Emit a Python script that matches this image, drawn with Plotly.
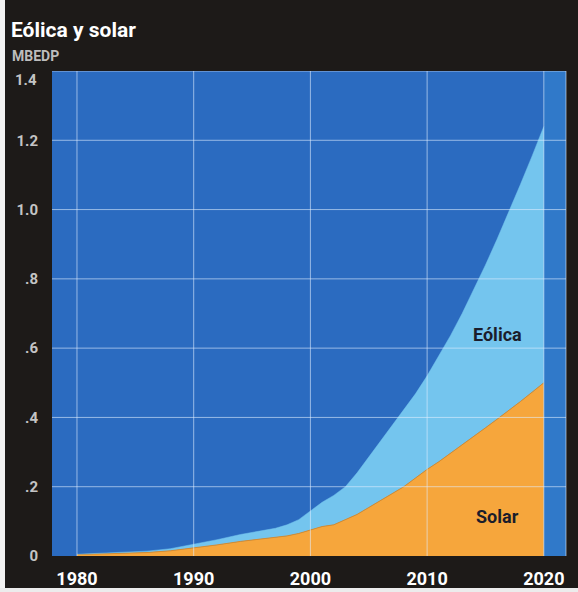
import plotly.graph_objects as go

# Annual production, millions of barrels equivalent per day (MBEDP)
years = [1980, 1982, 1984, 1986, 1988, 1990, 1992, 1994, 1996, 1997, 1998, 1999,
         2000, 2001, 2002, 2003, 2004, 2005, 2006, 2007, 2008, 2009, 2010,
         2011, 2012, 2013, 2014, 2015, 2016, 2017, 2018, 2019, 2020]
total = [0.005, 0.008, 0.011, 0.014, 0.021, 0.033, 0.047, 0.062, 0.073, 0.080, 0.090, 0.105,
         0.130, 0.155, 0.175, 0.200, 0.240, 0.285, 0.330, 0.375, 0.420, 0.468, 0.520,
         0.576, 0.636, 0.700, 0.768, 0.840, 0.915, 0.993, 1.073, 1.155, 1.240]
solar = [0.004, 0.006, 0.008, 0.010, 0.015, 0.023, 0.032, 0.042, 0.050, 0.054, 0.058, 0.065,
         0.075, 0.085, 0.090, 0.105, 0.120, 0.140, 0.160, 0.180, 0.200, 0.225, 0.250,
         0.272, 0.296, 0.320, 0.345, 0.370, 0.395, 0.420, 0.446, 0.473, 0.500]
eolica = [round(t - s, 4) for t, s in zip(total, solar)]

x_ticks = [1980, 1990, 2000, 2010, 2020]
y_ticks = [0, 0.2, 0.4, 0.6, 0.8, 1.0, 1.2, 1.4]
y_labels = ["0", ".2", ".4", ".6", ".8", "1.0", "1.2", "1.4"]

BG = "#1d1a18"
PLOT_BG = "#2b6bc0"
ORANGE = "#f6a63c"
LIGHT_BLUE = "#74c5ee"
FONT = "Roboto, Liberation Sans, sans-serif"
YTICK_FONT = dict(family=FONT, size=15, color="#c4c4c4", weight="bold")

W, H = 578, 592
L, R, T, B = 52, 12, 71, 36
plot_w, plot_h = W - L - R, H - T - B


def px_to_paper_x(px):
    return (px - L) / plot_w


def px_to_paper_y(py):
    return (H - B - py) / plot_h


fig = go.Figure()

fig.add_trace(go.Scatter(
    x=years, y=solar, name="Solar", stackgroup="one", mode="lines",
    line=dict(color="#d88b2c", width=1), fillcolor=ORANGE,
))
fig.add_trace(go.Scatter(
    x=years, y=eolica, name="Eólica", stackgroup="one", mode="lines",
    line=dict(color=LIGHT_BLUE, width=0.5), fillcolor=LIGHT_BLUE,
))

shapes = []
# slightly lighter strip past the last year
shapes.append(dict(type="rect", xref="x", yref="paper", x0=x_ticks[-1], x1=2021.9,
                   y0=0, y1=1, fillcolor="#3079c9", line=dict(width=0), layer="below"))
# grid drawn over the filled areas
for xv in x_ticks:
    shapes.append(dict(type="line", xref="x", yref="paper", x0=xv, x1=xv, y0=0, y1=1,
                       line=dict(color="rgba(225,238,255,0.6)", width=1), layer="above"))
for yv in y_ticks[1:]:
    shapes.append(dict(type="line", xref="paper", yref="y", x0=0, x1=1, y0=yv, y1=yv,
                       line=dict(color="rgba(225,238,255,0.6)", width=1), layer="above"))
shapes.append(dict(type="line", xref="paper", yref="paper", x0=1, x1=1, y0=0, y1=1,
                   line=dict(color="rgba(225,238,255,0.6)", width=1), layer="above"))
# paper edges
shapes.append(dict(type="rect", xref="paper", yref="paper",
                   x0=px_to_paper_x(0), x1=px_to_paper_x(5),
                   y0=px_to_paper_y(H), y1=px_to_paper_y(0),
                   fillcolor="#f2f2f2", line=dict(width=0), layer="below"))
shapes.append(dict(type="rect", xref="paper", yref="paper",
                   x0=px_to_paper_x(0), x1=px_to_paper_x(W),
                   y0=px_to_paper_y(H), y1=px_to_paper_y(588),
                   fillcolor="#ececec", line=dict(width=0), layer="below"))

annotations = [
    dict(text="Eólica y solar", xref="paper", yref="paper",
         x=px_to_paper_x(9), y=px_to_paper_y(30), xanchor="left", yanchor="middle",
         showarrow=False, font=dict(family=FONT, size=21, color="#ffffff", weight="bold")),
    dict(text="MBEDP", xref="paper", yref="paper",
         x=px_to_paper_x(10), y=px_to_paper_y(56), xanchor="left", yanchor="middle",
         showarrow=False, font=dict(family=FONT, size=14, color="#bdbdbd", weight="bold")),
    # top tick label sits just under its gridline
    dict(text=y_labels[-1], xref="paper", yref="y", x=px_to_paper_x(39), y=y_ticks[-1],
         xanchor="right", yanchor="middle", yshift=-9, showarrow=False, font=YTICK_FONT),
    dict(text="Eólica", x=2016.06, y=0.64, xref="x", yref="y", showarrow=False,
         font=dict(family=FONT, size=18, color="#1b1d2b", weight="bold")),
    dict(text="Solar", x=2016.0, y=0.113, xref="x", yref="y", showarrow=False,
         font=dict(family=FONT, size=18, color="#1b1d2b", weight="bold")),
]

fig.update_layout(
    width=W, height=H,
    margin=dict(l=L, r=R, t=T, b=B, pad=0, autoexpand=False),
    paper_bgcolor=BG, plot_bgcolor=PLOT_BG,
    showlegend=False,
    shapes=shapes,
    annotations=annotations,
    xaxis=dict(range=[1977.86, 2021.9], tickvals=x_ticks, ticktext=[str(v) for v in x_ticks],
               showgrid=False, zeroline=False, showline=False, ticks="",
               automargin=False, ticklabelstandoff=10,
               tickfont=dict(family=FONT, size=18, color="#ffffff", weight="bold")),
    yaxis=dict(range=[0, 1.4], tickvals=y_ticks[:-1], ticktext=y_labels[:-1],
               showgrid=False, zeroline=False, showline=False, ticks="",
               automargin=False, ticklabelstandoff=13, tickfont=YTICK_FONT),
)

fig.write_html("out.html")
